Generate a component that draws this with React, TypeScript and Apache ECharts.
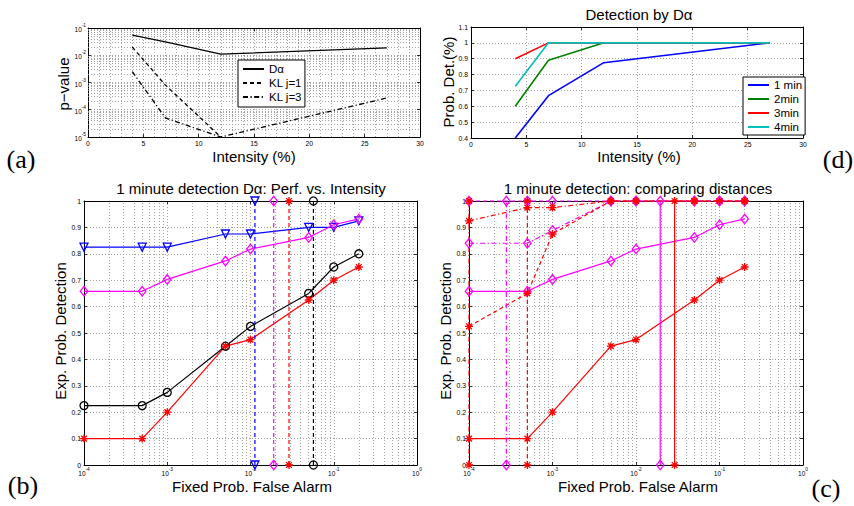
import React, { useEffect, useRef } from 'react';
import * as echarts from 'echarts';

const FONT = '"Liberation Sans", Arial, Helvetica, sans-serif';
const SERIF = '"Liberation Serif", "DejaVu Serif", serif';

// ---------- (a) p-value vs intensity ----------
const intensity = [4, 7, 12, 27];
const pDalpha = [0.055, 0.031, 0.011, 0.0185];
const pKL1 = [0.02, 8e-4, 1e-5];
const pKL3 = [2.5e-3, 5e-5, 1e-5, 2.7e-4];
const legendA = ['Dα', 'KL j=1', 'KL j=3'];

// ---------- (d) detection by D-alpha ----------
const det1min = [0.4, 0.667, 0.875, 1];
const det2min = [0.6, 0.89, 1, 1];
const det3min = [0.9, 1, 1, 1];
const det4min = [0.727, 1, 1, 1];
const legendD = ['1 min', '2min', '3min', '4min'];

// ---------- (b) perf vs intensity ----------
const pfa = [1e-4, 5e-4, 1e-3, 5e-3, 1e-2, 5e-2, 1e-1, 2e-1];
const bTriangle = [0.825, 0.825, 0.825, 0.875, 0.875, 0.9, 0.9, 0.925];
const bDiamond = [0.658, 0.658, 0.703, 0.773, 0.818, 0.862, 0.91, 0.932];
const bCircle = [0.225, 0.225, 0.275, 0.45, 0.525, 0.65, 0.75, 0.8];
const bStar = [0.1, 0.1, 0.2, 0.45, 0.475, 0.625, 0.7, 0.75];
const bThresholds = [0.0113, 0.019, 0.029, 0.057]; // triangle, diamond, star, circle

// ---------- (c) comparing distances ----------
const cDiamondSolid = [0.658, 0.658, 0.703, 0.773, 0.818, 0.862, 0.91, 0.932];
const cStarSolid = [0.1, 0.1, 0.2, 0.45, 0.475, 0.625, 0.7, 0.75];
const cDiamondDashDot = [0.84, 0.84, 0.888, 1, 1, 1, 1, 1];
const cDiamondDashed = [1, 1, 1, 1, 1, 1, 1, 1];
const cStarDashed = [0.525, 0.65, 0.875, 1, 1, 1, 1, 1];
const cStarDashDot = [0.925, 0.975, 0.975, 1, 1, 1, 1, 1];
const cThresholds = [1e-4, 2.8e-4, 5e-4, 0.0195, 0.029];

const titles = ['Detection by Dα', '1 minute detection Dα: Perf. vs. Intensity', '1 minute detection: comparing distances'];

const BLUE = '#0000ff';
const MAG = '#ff00ff';
const RED = '#ff0000';
const GREEN = '#008000';
const CYAN = '#00bfbf';
const BLACK = '#000000';

const DASH = [4, 3];
const DASHDOT = [5, 2.5, 1.2, 2.5];

const STAR = 'path://M0,-10L0,10M-10,0L10,0M-7.2,-7.2L7.2,7.2M-7.2,7.2L7.2,-7.2';
const TRI_DOWN = 'path://M-10,-8L10,-8L0,10Z';

const zip = (xs: number[], ys: number[]) => ys.map((y, i) => [xs[i], y]);
const vline = (x: number) => [[x, 0], [x, 1]];

function supLabel(v: number) {
  const e = Math.round(Math.log10(v));
  return `{b|10}{e|${e}}`;
}
const supRich = {
  b: { fontSize: 6.5, fontFamily: FONT, color: '#000', lineHeight: 10, verticalAlign: 'bottom' },
  e: { fontSize: 4.8, fontFamily: FONT, color: '#000', lineHeight: 10, verticalAlign: 'top' },
};

function logMinors(lo: number, hi: number) {
  const out: number[] = [];
  for (let n = lo; n < hi; n++) {
    for (let k = 2; k <= 9; k++) out.push(Number((k * Math.pow(10, n)).toPrecision(3)));
  }
  return out;
}

const gridLineStyle = { color: '#8a8a8a', type: [1, 2], width: 0.8 };
const axisLineStyle = { show: true, onZero: false, lineStyle: { color: '#000', width: 1 } };
const tickStyle = { show: true, inside: true, length: 3, lineStyle: { color: '#000', width: 0.8 } };
const numLabel = { show: true, fontSize: 6.8, color: '#000', fontFamily: FONT, margin: 3 };
const logLabel = { show: true, color: '#000', margin: 2, formatter: supLabel, rich: supRich };

function axisPair(kind: 'x' | 'y', gridIndex: number, base: any, label: any, extra: any = {}) {
  const p1 = kind === 'x' ? 'bottom' : 'left';
  const p2 = kind === 'x' ? 'top' : 'right';
  return [
    { gridIndex, position: p1, ...base, axisLine: axisLineStyle, axisTick: tickStyle, axisLabel: label,
      splitLine: { show: true, lineStyle: gridLineStyle }, ...extra },
    { gridIndex, position: p2, ...base, axisLine: axisLineStyle, axisTick: tickStyle, axisLabel: { show: false },
      splitLine: { show: false }, minorSplitLine: { show: false }, minorTick: { show: false } },
  ];
}

// minor grid lines drawn as a "lines" series through the axis scales
function minorGridSeries(xi: number, yi: number, axis: 'x' | 'y', values: number[], lo: number, hi: number) {
  return {
    name: `_minor_${xi}_${axis}`,
    type: 'lines',
    coordinateSystem: 'cartesian2d',
    xAxisIndex: xi,
    yAxisIndex: yi,
    silent: true,
    z: 1,
    polyline: false,
    lineStyle: { ...gridLineStyle, opacity: 1 },
    data: values.map((v) => ({ coords: axis === 'x' ? [[v, lo], [v, hi]] : [[lo, v], [hi, v]] })),
  };
}

function markerSeries(name: string, xi: number, yi: number, data: any, color: string, symbol: string,
  size: any, dash: any, z = 3) {
  return {
    name,
    type: 'line',
    xAxisIndex: xi,
    yAxisIndex: yi,
    data,
    clip: false,
    symbol,
    symbolSize: size,
    showSymbol: true,
    z,
    lineStyle: { color, width: 1.2, type: dash },
    itemStyle: { color: 'none', borderColor: color, borderWidth: 1.3 },
    emphasis: { disabled: true },
  };
}

const DIAM = [7.5, 9.5];

function App() {
  const ref = useRef<HTMLDivElement>(null);
  useEffect(() => {
    if (!ref.current) return;
    const chart = echarts.init(ref.current, undefined, { renderer: 'svg' });

    const xAxis = [
      ...axisPair('x', 0, { type: 'value', min: 0, max: 30, interval: 5, minorTick: { show: false, splitNumber: 5 } }, numLabel,
        { minorSplitLine: { show: true, lineStyle: gridLineStyle } }),
      ...axisPair('x', 1, { type: 'value', min: 0, max: 30, interval: 5 }, numLabel),
      ...axisPair('x', 2, { type: 'log', logBase: 10, min: 1e-4, max: 1 }, logLabel),
      ...axisPair('x', 3, { type: 'log', logBase: 10, min: 1e-4, max: 1 }, logLabel),
    ];
    const yAxis = [
      ...axisPair('y', 0, { type: 'log', logBase: 10, min: 1e-5, max: 1e-1 }, logLabel),
      ...axisPair('y', 1, { type: 'value', min: 0.4, max: 1.1, interval: 0.1 }, numLabel),
      ...axisPair('y', 2, { type: 'value', min: 0, max: 1, interval: 0.1 }, numLabel),
      ...axisPair('y', 3, { type: 'value', min: 0, max: 1, interval: 0.1 }, numLabel),
    ];

    const lineS = (name: string, xi: number, yi: number, data: any, color: string, width: number, dash: any) => ({
      name, type: 'line', xAxisIndex: xi, yAxisIndex: yi, data, symbol: 'none', z: 3,
      lineStyle: { color, width, type: dash }, itemStyle: { color }, emphasis: { disabled: true },
    });

    const series: any[] = [
      // minor grids
      minorGridSeries(0, 0, 'y', logMinors(-5, -1), 0, 30),
      minorGridSeries(4, 4, 'x', logMinors(-4, 0), 0, 1),
      minorGridSeries(6, 6, 'x', logMinors(-4, 0), 0, 1),

      // (a)
      lineS(legendA[0], 0, 0, zip(intensity, pDalpha), BLACK, 1.3, 'solid'),
      lineS(legendA[1], 0, 0, zip(intensity, pKL1), BLACK, 1.3, DASH),
      lineS(legendA[2], 0, 0, zip(intensity, pKL3), BLACK, 1.3, DASHDOT),

      // (d)
      lineS(legendD[0], 2, 2, zip(intensity, det1min), BLUE, 1.6, 'solid'),
      lineS(legendD[1], 2, 2, zip(intensity, det2min), GREEN, 1.6, 'solid'),
      lineS(legendD[2], 2, 2, zip(intensity, det3min), RED, 1.6, 'solid'),
      lineS(legendD[3], 2, 2, zip(intensity, det4min), CYAN, 1.6, 'solid'),

      // (b)
      markerSeries('b_tri', 4, 4, zip(pfa, bTriangle), BLUE, TRI_DOWN, 8, 'solid'),
      markerSeries('b_diam', 4, 4, zip(pfa, bDiamond), MAG, 'diamond', DIAM, 'solid'),
      markerSeries('b_circ', 4, 4, zip(pfa, bCircle), BLACK, 'circle', 8, 'solid'),
      markerSeries('b_star', 4, 4, zip(pfa, bStar), RED, STAR, 8, 'solid'),
      markerSeries('b_v_tri', 4, 4, vline(bThresholds[0]), BLUE, TRI_DOWN, 8, DASH),
      markerSeries('b_v_diam', 4, 4, vline(bThresholds[1]), MAG, 'diamond', DIAM, DASH),
      markerSeries('b_v_star', 4, 4, vline(bThresholds[2]), RED, STAR, 8, DASH),
      markerSeries('b_v_circ', 4, 4, vline(bThresholds[3]), BLACK, 'circle', 8, DASH),

      // (c)
      markerSeries('c_diam_solid', 6, 6, zip(pfa, cDiamondSolid), MAG, 'diamond', DIAM, 'solid'),
      markerSeries('c_star_solid', 6, 6, zip(pfa, cStarSolid), RED, STAR, 8, 'solid'),
      markerSeries('c_diam_dashdot', 6, 6, zip(pfa, cDiamondDashDot), MAG, 'diamond', DIAM, DASHDOT),
      markerSeries('c_diam_dashed', 6, 6, zip(pfa, cDiamondDashed), MAG, 'diamond', DIAM, DASH),
      markerSeries('c_star_dashed', 6, 6, zip(pfa, cStarDashed), RED, STAR, 8, DASH),
      markerSeries('c_star_dashdot', 6, 6, zip(pfa, cStarDashDot), RED, STAR, 8, DASHDOT),
      markerSeries('c_v_star_dashdot', 6, 6, vline(cThresholds[0]), RED, STAR, 8, DASHDOT),
      markerSeries('c_v_diam_dashdot', 6, 6, vline(cThresholds[1]), MAG, 'diamond', DIAM, DASHDOT),
      markerSeries('c_v_star_dashed', 6, 6, vline(cThresholds[2]), RED, STAR, 8, DASH),
      markerSeries('c_v_diam_solid', 6, 6, vline(cThresholds[3]), MAG, 'diamond', DIAM, 'solid'),
      markerSeries('c_v_star_solid', 6, 6, vline(cThresholds[4]), RED, STAR, 8, 'solid'),
    ];

    const txt = (text: string, x: number, y: number, size: number, rot = 0, family = FONT) => ({
      type: 'text', x, y, rotation: rot, silent: true, z: 10,
      style: { text, fontSize: size, fontFamily: family, fill: '#000', align: 'center', verticalAlign: 'middle' },
    });

    const legendCommon = {
      orient: 'vertical', borderColor: '#000', borderWidth: 1, backgroundColor: '#fff',
      itemGap: 0, itemWidth: 21, itemHeight: 10, selectedMode: false, borderRadius: 0,
      itemStyle: { opacity: 0 },
      textStyle: { fontSize: 11.5, fontFamily: FONT, color: '#000', lineHeight: 14 },
    };

    const T = 15;
    chart.setOption({
      animation: false,
      backgroundColor: '#fff',
      grid: [
        { left: 88, top: 28, width: 332, height: 109 },
        { left: 471, top: 27, width: 332, height: 111 },
        { left: 84, top: 201, width: 333, height: 264 },
        { left: 469, top: 201, width: 334, height: 264 },
      ],
      xAxis,
      yAxis,
      legend: [
        { ...legendCommon, left: 238, top: 60, padding: [2, 3, 3, 4], data: legendA },
        { ...legendCommon, left: 743, top: 77, padding: [1, 3, 1, 4], data: legendD },
      ],
      series,
      graphic: [
        txt(titles[0], 639, 14, T),
        txt(titles[1], 251, 188, T),
        txt(titles[2], 638, 188, T),
        txt('p−value', 63, 84, T, Math.PI / 2),
        txt('Prob. Det.(%)', 448, 82, T, Math.PI / 2),
        txt('Exp. Prob. Detection', 60, 331, T, Math.PI / 2),
        txt('Exp. Prob. Detection', 445, 331, T, Math.PI / 2),
        txt('Intensity (%)', 254, 156, T),
        txt('Intensity (%)', 639, 156, T),
        txt('Fixed Prob. False Alarm', 252, 486, T),
        txt('Fixed Prob. False Alarm', 638, 486, T),
        txt('(a)', 21, 159, 26, 0, SERIF),
        txt('(d)', 838, 159, 26, 0, SERIF),
        txt('(b)', 23, 485, 26, 0, SERIF),
        txt('(c)', 826, 488, 26, 0, SERIF),
      ],
    });
    return () => chart.dispose();
  }, []);
  return <div ref={ref} style={{ position: 'absolute', left: 0, top: 0, width: 854, height: 506, background: '#fff' }} />;
}

export default App;
